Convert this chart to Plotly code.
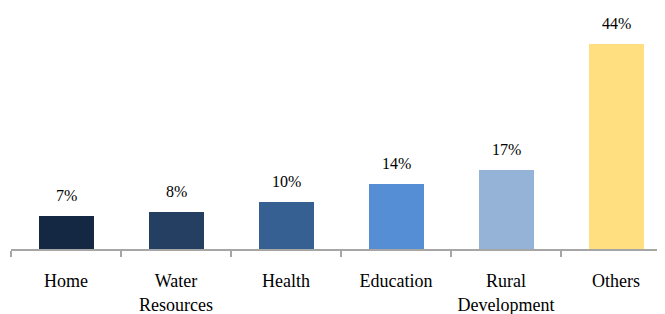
import plotly.graph_objects as go

categories = ["Home", "Water<br>Resources", "Health", "Education", "Rural<br>Development", "Others"]
values = [7, 8, 10, 14, 17, 44]
labels = ["7%", "8%", "10%", "14%", "17%", "44%"]
colors = ["#142843", "#243F61", "#366092", "#558ED5", "#95B3D7", "#FFDF7F"]

# page body has an 8px default margin; size the figure so it fits the window
W, H = 657, 306
ml, mr, mt, mb = 3, 0, 2, 65
plot_w = W - ml - mr
cat_px = 110
x_hi = -0.5 + plot_w / cat_px
plot_h = H - mt - mb
px_per_unit = 205 / 44
y_hi = plot_h / px_per_unit

fig = go.Figure()
fig.add_trace(go.Bar(
    x=categories,
    y=values,
    marker=dict(color=colors, line=dict(width=0)),
    width=0.5,
    hoverinfo="skip",
))
for c, v, t in zip(categories, values, labels):
    fig.add_annotation(x=c, y=v, text=t, showarrow=False, yanchor="bottom",
                       yshift=10, font=dict(family="Liberation Serif", size=16, color="#000000"))

fig.update_layout(
    width=W, height=H,
    margin=dict(l=ml, r=mr, t=mt, b=mb, autoexpand=False),
    plot_bgcolor="white", paper_bgcolor="white",
    showlegend=False,
    font=dict(family="Liberation Serif", size=18, color="#000000"),
    bargap=0,
)
fig.update_xaxes(
    type="category",
    range=[-0.5, x_hi],
    tickson="boundaries",
    ticks="outside", ticklen=6, tickcolor="#A6A6A6", tickwidth=1.5,
    showline=True, linecolor="#A6A6A6", linewidth=1.5,
    showgrid=False, zeroline=False,
    automargin=False,
    tickfont=dict(family="Liberation Serif", size=18, color="#000000"),
    ticklabelstandoff=15,
)
fig.update_yaxes(range=[0, y_hi], visible=False, showgrid=False, zeroline=False)

fig.write_html("out.html")
